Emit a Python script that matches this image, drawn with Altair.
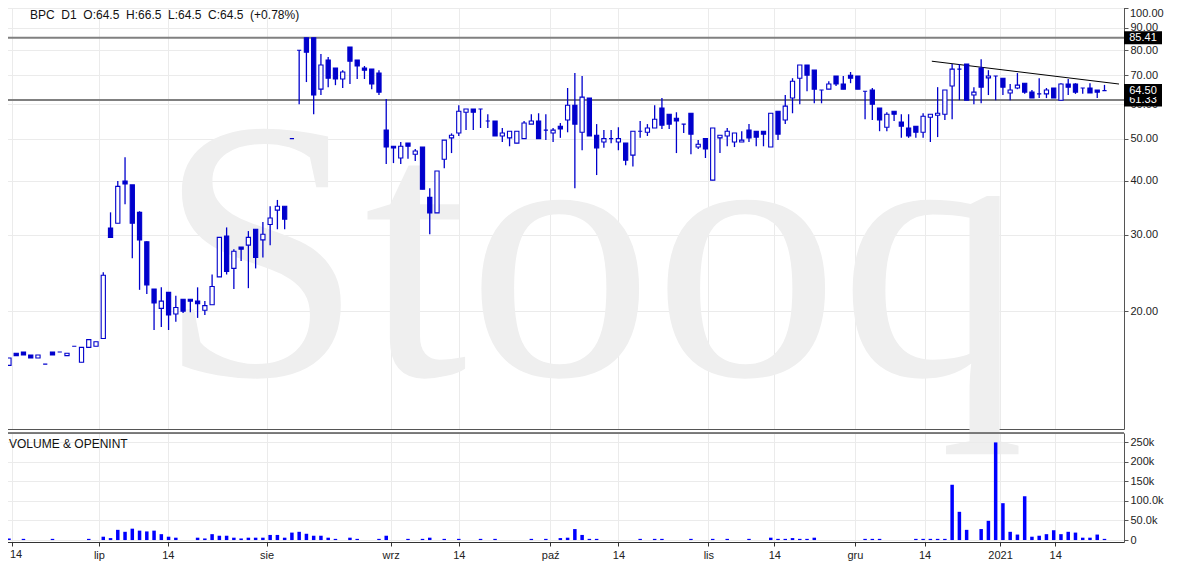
import altair as alt
import pandas as pd

# ---- data (index = trading-day slot) ----
opens = [15.0, 16.0, 16.1, 15.85, 15.6, 15.1, 16.1, 16.1, 15.8, 16.6,
         15.25, 16.5, 16.6, 17.3, 31.1, 31.9, 39.9, 39.1, 33.8, 28.9,
         22.5, 20.3, 22.1, 19.7, 21.3, 21.3, 21.1, 20.1, 20.7, 24.0,
         29.8, 25.1, 28.1, 28.4, 30.9, 29.2, 31.7, 34.2, 34.9, 50.0,
         79.9, 85.41, 85.41, 65.0, 75.9, 72.7, 68.6, 81.3, 75.9, 72.7,
         72.3, 70.8, 52.3, 48.0, 45.1, 48.8, 46.0, 47.8, 36.6, 33.7,
         44.8, 50.2, 51.5, 57.5, 58.5, 58.5, 54.9, 54.9, 50.7, 50.2,
         48.8, 50.0, 54.0, 54.9, 52.3, 51.5, 53.4, 55.2, 59.7, 51.7,
         62.0, 50.9, 49.1, 50.0, 49.1, 48.8, 45.8, 52.0, 51.7, 52.9,
         58.8, 56.9, 55.7, 54.0, 57.2, 47.8, 50.0, 40.1, 50.2, 50.7,
         49.1, 49.1, 52.3, 52.0, 52.0, 47.8, 57.8, 55.2, 62.0, 68.9,
         73.9, 71.9, 64.7, 65.0, 69.7, 66.8, 70.0, 69.7, 64.3, 64.7,
         58.8, 53.1, 57.8, 54.6, 52.9, 53.4, 51.7, 56.0, 56.6, 56.9,
         66.1, 72.3, 74.3, 63.0, 72.7, 69.0, 69.7, 68.9, 63.7, 65.4,
         67.1, 64.0, 63.4, 63.4, 65.4, 61.3, 66.8, 66.8, 65.4, 65.4,
         64.7, 64.5]
highs = [15.6, 16.0, 16.1, 15.85, 15.85, 15.1, 16.1, 16.1, 16.0, 16.6,
         16.5, 17.2, 17.0, 24.6, 33.8, 39.9, 45.3, 39.1, 34.0, 29.0,
         22.5, 22.7, 22.1, 21.7, 21.3, 21.3, 22.7, 21.1, 24.3, 29.6,
         31.2, 27.8, 28.1, 30.6, 30.9, 32.1, 34.9, 36.1, 34.9, 50.0,
         79.9, 85.41, 85.41, 78.3, 77.1, 72.7, 71.9, 81.3, 75.9, 73.5,
         72.3, 71.9, 61.7, 48.0, 49.1, 48.8, 47.3, 47.8, 38.4, 42.1,
         49.6, 51.4, 59.7, 58.5, 58.5, 58.5, 56.9, 54.9, 52.9, 52.0,
         52.0, 54.9, 56.9, 57.2, 56.9, 52.9, 54.3, 65.4, 70.8, 69.7,
         62.0, 54.0, 52.3, 52.3, 53.1, 48.8, 52.0, 54.9, 54.0, 59.7,
         62.0, 56.9, 57.5, 54.0, 57.2, 49.6, 50.0, 52.9, 50.9, 52.9,
         51.5, 52.0, 54.0, 52.0, 52.0, 57.2, 57.8, 63.0, 68.9, 73.9,
         73.9, 71.9, 64.7, 67.8, 69.7, 69.7, 71.2, 69.7, 64.3, 65.4,
         58.8, 57.5, 57.8, 56.9, 56.9, 53.4, 57.2, 56.9, 65.7, 64.7,
         74.3, 74.3, 74.3, 65.7, 76.2, 71.9, 69.7, 68.9, 66.8, 70.8,
         67.1, 64.7, 68.9, 65.4, 65.4, 67.1, 68.6, 67.1, 65.4, 67.1,
         64.7, 66.5]
lows = [15.0, 15.8, 15.85, 15.6, 15.6, 15.1, 15.85, 16.1, 15.8, 16.6,
        15.25, 16.5, 16.6, 17.3, 29.6, 31.9, 35.3, 26.5, 22.4, 21.9,
        18.1, 18.4, 18.1, 18.9, 19.8, 19.9, 19.3, 19.6, 20.7, 24.0,
        24.3, 22.5, 26.1, 22.6, 25.1, 26.6, 28.4, 30.9, 30.9, 50.0,
        60.0, 67.5, 56.9, 63.0, 65.7, 66.4, 65.4, 66.8, 68.6, 68.6,
        65.0, 63.0, 43.7, 43.9, 43.7, 44.9, 44.4, 38.2, 30.1, 33.7,
        42.7, 46.3, 50.7, 52.3, 52.3, 52.9, 52.9, 50.7, 49.1, 48.0,
        48.8, 50.0, 54.0, 50.0, 49.6, 49.1, 50.2, 51.7, 38.4, 47.0,
        50.7, 41.2, 47.6, 48.8, 47.0, 43.4, 43.1, 50.2, 50.7, 52.9,
        52.6, 52.6, 46.3, 51.5, 46.0, 47.3, 45.1, 40.1, 46.3, 48.0,
        47.8, 49.1, 49.1, 48.0, 48.0, 47.8, 49.6, 54.0, 57.2, 60.0,
        64.3, 60.3, 60.3, 65.0, 66.1, 65.0, 67.1, 65.0, 55.4, 55.2,
        52.0, 52.0, 54.9, 50.2, 50.2, 50.2, 50.2, 49.1, 50.4, 55.2,
        55.4, 61.3, 61.3, 60.0, 60.3, 63.0, 61.3, 63.0, 61.3, 65.0,
        63.4, 62.0, 62.0, 62.0, 62.0, 61.3, 63.0, 63.4, 63.4, 63.7,
        62.0, 64.5]
closes = [15.6, 15.8, 15.85, 15.6, 15.85, 15.1, 15.85, 16.1, 16.0, 16.6,
          16.5, 17.2, 17.0, 24.2, 29.6, 38.8, 39.3, 31.9, 29.2, 23.0,
          20.9, 21.1, 19.6, 20.4, 20.0, 21.1, 20.8, 20.6, 22.8, 29.6,
          24.7, 27.5, 27.8, 29.6, 26.6, 30.1, 32.8, 34.9, 32.6, 50.0,
          79.9, 79.1, 63.0, 73.9, 68.9, 68.6, 71.2, 75.4, 73.5, 71.9,
          66.8, 64.0, 47.8, 47.6, 48.0, 48.0, 46.8, 38.2, 33.7, 42.1,
          49.6, 50.9, 57.8, 58.5, 57.5, 58.5, 54.9, 50.7, 51.5, 52.0,
          52.0, 54.3, 54.9, 50.0, 52.3, 52.3, 52.6, 59.7, 54.0, 62.3,
          50.7, 47.6, 50.0, 50.0, 50.0, 44.6, 52.0, 52.0, 52.9, 55.4,
          53.7, 54.0, 54.9, 54.0, 51.2, 48.5, 47.3, 52.9, 50.9, 52.0,
          51.5, 49.6, 50.2, 50.4, 51.2, 57.2, 51.2, 59.4, 67.8, 73.9,
          70.0, 65.0, 64.7, 66.8, 66.8, 65.0, 68.9, 65.0, 64.3, 60.0,
          55.2, 56.9, 56.9, 53.4, 50.7, 51.7, 56.3, 56.9, 57.2, 64.7,
          72.3, 72.3, 61.3, 64.0, 65.7, 69.7, 69.7, 65.7, 64.7, 66.4,
          64.0, 62.0, 63.4, 64.7, 62.0, 66.8, 65.7, 64.0, 65.4, 63.7,
          64.0, 64.5]
volumes = [4000, 0, 3000, 0, 0, 0, 3000, 0, 0, 0,
           0, 3000, 0, 8500, 5000, 26000, 21000, 29000, 24000, 22000,
           24000, 15000, 8500, 6000, 0, 0, 6000, 4000, 15000, 11000,
           11000, 6000, 4000, 6000, 6000, 6000, 13000, 13000, 6000, 19000,
           21000, 16000, 11000, 11000, 6000, 3000, 0, 6000, 3000, 0,
           0, 3000, 11000, 0, 0, 3000, 0, 3000, 6000, 0,
           3000, 0, 3000, 0, 0, 3000, 0, 3000, 0, 0,
           0, 0, 3000, 0, 3000, 0, 5000, 6000, 28000, 13000,
           3000, 3000, 0, 0, 0, 0, 0, 3000, 0, 3000,
           3000, 0, 0, 0, 3000, 0, 0, 3000, 0, 3000,
           0, 0, 3000, 0, 0, 6000, 3000, 3000, 5000, 3000,
           3000, 6000, 0, 0, 0, 0, 0, 0, 3000, 3000,
           3000, 0, 0, 0, 0, 3000, 3000, 3000, 3000, 3000,
           141000, 72000, 26000, 0, 28000, 49000, 249000, 94000, 21000, 14000,
           112000, 8500, 11000, 15000, 25000, 15000, 21000, 19000, 6000, 6000,
           14000, 3000]

tick_pos = [0.4, 12.4, 21.9, 35.5, 52.6, 62.0, 74.6, 84.0, 96.4, 105.5,
            116.6, 126.2, 136.6, 144.2]
tick_labels = ["14", "lip", "14", "sie", "wrz", "14", "paź", "14", "lis",
               "14", "gru", "14", "2021", "14"]
price_ticks = [20, 30, 40, 50, 60, 70, 80, 90, 100]
vol_ticks = [0, 50000, 100000, 150000, 200000, 250000]
level_values = [85.41, 61.33]
last_close = [64.5]
trend_x = [127.2, 153.0]
trend_y = [75.4, 66.8]
NB = "\u00a0"
title_text = f"BPC {NB}D1 {NB}O:64.5 {NB}H:66.5 {NB}L:64.5 {NB}C:64.5 {NB}(+0.78%)"

# ---- tables ----
df = pd.DataFrame({"i": list(range(len(opens))), "o": opens, "h": highs,
                   "l": lows, "c": closes, "v": volumes})
levels_df = pd.DataFrame({"p": level_values, "txt": [f"{v:.2f}" for v in level_values]})
last_df = pd.DataFrame({"p": last_close, "txt": [f"{v:.2f}" for v in last_close]})
trend_df = pd.DataFrame({"i": trend_x, "p": trend_y})
one = pd.DataFrame({"t": ["Stooq"], "title": [title_text], "vt": ["VOLUME & OPENINT"],
                    "top": [f"{max(price_ticks):.2f}"], "first": [tick_labels[0]]})

BLUE = "#0000cc"
W = 1122
FONT = "Liberation Sans"

xscale = alt.Scale(domain=[-0.27, 153.0], nice=False, zero=False)
yscale = alt.Scale(type="log", domain=[10.7, 103.8], nice=False)
vscale = alt.Scale(domain=[-5000, 273000], nice=False, zero=False)

pos_js = "[" + ",".join(f"{v:g}" for v in tick_pos) + "]"
lab_js = "[" + ",".join(f"'{t}'" for t in tick_labels) + "]"
x_label_expr = (f"indexof({pos_js}, datum.value) == 0 ? '' : "
                f"{lab_js}[indexof({pos_js}, datum.value)]")
top_tick = max(price_ticks)
price_label_expr = f"datum.value == {top_tick} ? '' : format(datum.value, '.2f')"

x_price_axis = alt.Axis(values=tick_pos, labels=False, ticks=False, grid=True,
                        gridColor="#ebebeb", domain=True, domainColor="#555555",
                        title=None, orient="bottom")
y_price_axis = alt.Axis(orient="right", values=price_ticks, labelExpr=price_label_expr,
                        grid=True, gridColor="#ebebeb", domainColor="#555555",
                        tickColor="#555555", tickSize=4, labelFontSize=11,
                        labelColor="#222222", labelFont=FONT, labelPadding=2, title=None)

X = alt.X("i:Q", scale=xscale, axis=x_price_axis)

watermark = alt.Chart(one).mark_text(
    font="Liberation Serif", fontSize=372, color="#efefef", align="left",
    baseline="alphabetic").encode(text="t:N", x=alt.value(155), y=alt.value(374))

level_lines = alt.Chart(levels_df).mark_rule(color="#808080", strokeWidth=2).encode(
    y=alt.Y("p:Q", scale=yscale, axis=y_price_axis))

trend = alt.Chart(trend_df).mark_line(color="black", strokeWidth=1).encode(
    x=X, y=alt.Y("p:Q", scale=yscale))

wicks = alt.Chart(df).mark_rule(color=BLUE, strokeWidth=1.3).encode(
    x=X, y=alt.Y("l:Q", scale=yscale), y2="h:Q")

bodies = alt.Chart(df).mark_bar(width=4.2, stroke=BLUE, strokeWidth=1.1).encode(
    x=X, y=alt.Y("o:Q", scale=yscale), y2="c:Q",
    fill=alt.when(alt.datum.c >= alt.datum.o).then(alt.value("white")).otherwise(alt.value(BLUE)))

level_boxes = alt.Chart(levels_df).mark_rule(color="black", strokeWidth=13, strokeCap="butt").encode(
    y=alt.Y("p:Q", scale=yscale), x=alt.value(W), x2=alt.value(W + 38))
level_text = alt.Chart(levels_df).mark_text(color="white", fontSize=11, font=FONT,
                                             align="center", baseline="middle").encode(
    y=alt.Y("p:Q", scale=yscale), x=alt.value(W + 19), text="txt:N")
last_box = alt.Chart(last_df).mark_rule(color="black", strokeWidth=13, strokeCap="butt").encode(
    y=alt.Y("p:Q", scale=yscale), x=alt.value(W), x2=alt.value(W + 38))
last_text = alt.Chart(last_df).mark_text(color="white", fontSize=11, font=FONT,
                                          align="center", baseline="middle").encode(
    y=alt.Y("p:Q", scale=yscale), x=alt.value(W + 19), text="txt:N")

# top axis label drawn just inside the visible page area
top_label = alt.Chart(one).mark_text(fontSize=11, font=FONT, color="#222222", align="left",
                                     baseline="middle").encode(
    text="top:N", x=alt.value(W + 6), y=alt.value(13))

title = alt.Chart(one).mark_text(fontSize=12, font=FONT, color="#111111", align="left",
                                 baseline="middle").encode(
    text="title:N", x=alt.value(28), y=alt.value(14))

price = alt.layer(watermark, level_lines, trend, wicks, bodies,
                  level_boxes, level_text, last_box, last_text, top_label, title).properties(
    width=W, height=428)

# ---- volume panel ----
vol_label_expr = ("datum.value == 0 ? '0' : (datum.value < 150000 ? "
                  "format(datum.value/1000, '.1f') + 'k' : format(datum.value/1000, 'd') + 'k')")
x_vol_axis = alt.Axis(values=tick_pos, labelExpr=x_label_expr, grid=True, gridColor="#ebebeb",
                      domainColor="#333333", tickColor="#333333", tickSize=4,
                      labelFontSize=11, labelFont=FONT, labelColor="#222222",
                      labelPadding=3, title=None, labelFlush=False)
y_vol_axis = alt.Axis(orient="right", values=vol_ticks, labelExpr=vol_label_expr, grid=True,
                      gridColor="#ebebeb", domainColor="#555555", tickColor="#555555",
                      tickSize=4, labelFontSize=11, labelColor="#222222", labelFont=FONT,
                      labelPadding=2, title=None)

VH = 109
vbars = alt.Chart(df).mark_bar(width=3.5, color="#0000ff").encode(
    x=alt.X("i:Q", scale=xscale, axis=x_vol_axis),
    y=alt.Y("v:Q", scale=vscale, axis=y_vol_axis), y2=alt.datum(0))
vtop = alt.Chart(one).mark_rule(color="#555555", strokeWidth=1.5).encode(
    x=alt.value(0), x2=alt.value(W), y=alt.value(0))
vtitle = alt.Chart(one).mark_text(fontSize=12, font=FONT, color="#111111", align="left",
                                  baseline="middle").encode(
    text="vt:N", x=alt.value(7), y=alt.value(11))
first_label = alt.Chart(one).mark_text(fontSize=11, font=FONT, color="#222222", align="left",
                                       baseline="top").encode(
    text="first:N", x=alt.value(8), y=alt.value(VH + 7))

volume = alt.layer(vbars, vtop, vtitle, first_label).properties(width=W, height=VH)

base = alt.vconcat(price, volume, spacing=4, bounds="flush").configure_view(
    stroke=None).configure(font=FONT, background="white")

try:
    chart = base.properties(padding={"left": -8, "top": -8, "right": 0, "bottom": 0})
    chart.to_dict()
except Exception:
    chart = base.properties(padding=0)

chart.save("out.html", embed_options={"renderer": "svg", "actions": False})
